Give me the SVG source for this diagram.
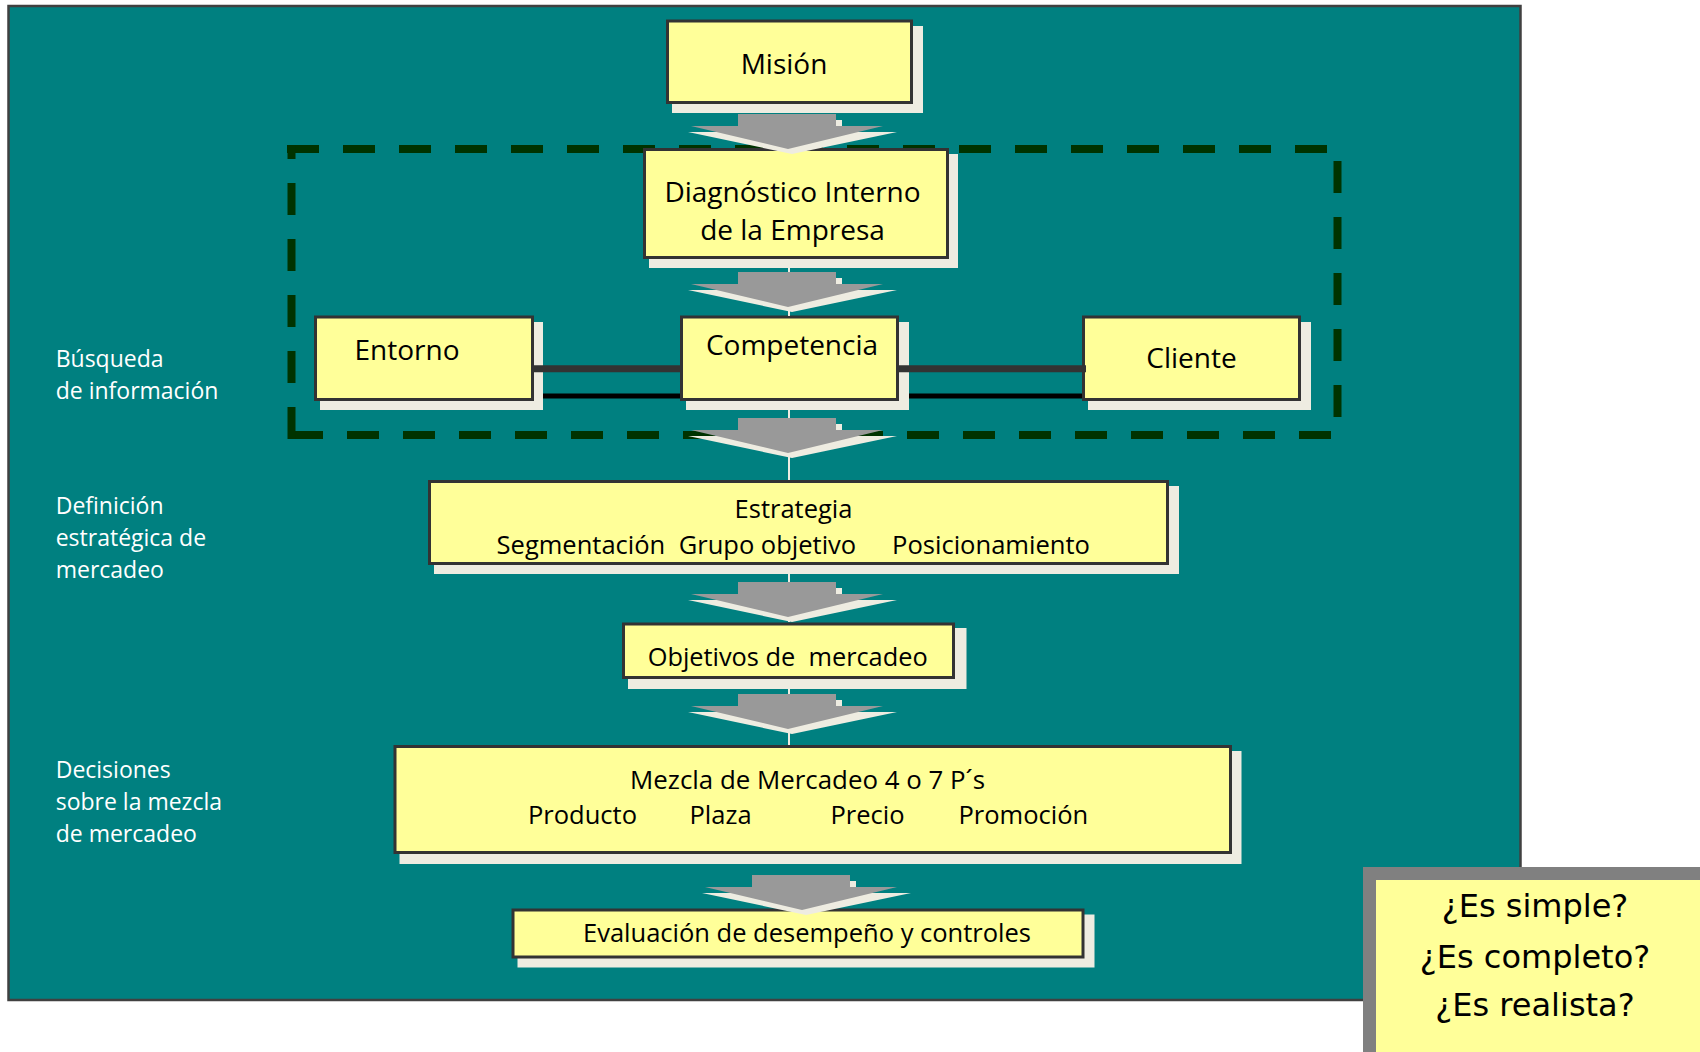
<svg xmlns="http://www.w3.org/2000/svg" width="1700" height="1052" viewBox="0 0 1700 1052">
<defs>
<style>
.shadow{fill:#EEECE1}
.box{fill:#FFFF99;stroke:#333333;stroke-width:3}
.t{font-family:'Open Sans','Noto Sans','DejaVu Sans',sans-serif;fill:#000000}
.n28{font-size:28px}
.n25{font-size:25.5px}
.lbl{font-family:'Open Sans','Noto Sans','DejaVu Sans',sans-serif;font-size:23px;fill:#FFFFFF}
.dash{stroke:#003300;stroke-width:8;stroke-dasharray:32 24;fill:none}
.arr-sh{fill:#EEECE1}
.arr{fill:#999999}
.q{font-family:'DejaVu Sans','Liberation Sans',sans-serif;font-size:32px;fill:#000000}
</style>
<g id="flowArrow">
<path class="arr-sh" d="M48,6 H54 V18 H109 L4,40 L-100,18 H48 Z"/>
<path class="arr" d="M-50,0 H48 V12 H95 L0,35 L-97,12 H-50 Z"/>
</g>
</defs>

<rect x="0" y="0" width="1700" height="1052" fill="#FFFFFF"/>
<rect id="panel" x="8.5" y="6" width="1512" height="994" fill="#008080" stroke="#404040" stroke-width="2.5"/>

<g id="labels">
<text class="lbl" x="55.7" y="366.7">Búsqueda</text>
<text class="lbl" x="55.7" y="398.5">de información</text>
<text class="lbl" x="55.7" y="514">Definición</text>
<text class="lbl" x="55.7" y="546">estratégica de</text>
<text class="lbl" x="55.7" y="578">mercadeo</text>
<text class="lbl" x="55.7" y="778">Decisiones</text>
<text class="lbl" x="55.7" y="810">sobre la mezcla</text>
<text class="lbl" x="55.7" y="842">de mercadeo</text>
</g>

<g id="frame">
<line class="dash" x1="287" y1="149" x2="1342" y2="149"/>
<line class="dash" x1="1337.5" y1="148" x2="1337.5" y2="435" stroke-dashoffset="43"/>
<line class="dash" x1="291" y1="435" x2="1342" y2="435"/>
<line class="dash" x1="291.5" y1="439" x2="291.5" y2="145"/>
</g>

<g id="mision">
<rect class="shadow" x="672" y="26" width="251" height="87"/>
<rect class="box" x="667.5" y="21" width="244" height="81.5"/>
<text class="t n28" x="784" y="74" text-anchor="middle">Misión</text>
</g>

<g id="diagnostico">
<rect class="shadow" x="649" y="154" width="309" height="114"/>
<rect class="box" x="644.5" y="149.5" width="303" height="108"/>
<text class="t n28" x="792.5" y="201.5" text-anchor="middle">Diagnóstico Interno</text>
<text class="t n28" x="792.5" y="240" text-anchor="middle">de la Empresa</text>
</g>

<g id="entorno">
<rect class="shadow" x="320" y="322" width="223" height="88"/>
<rect class="box" x="315.5" y="317" width="217" height="82.5"/>
<text class="t n28" x="354.5" y="360">Entorno</text>
</g>

<g id="competencia">
<rect class="shadow" x="686" y="322" width="223" height="88"/>
<rect class="box" x="681.5" y="317" width="216" height="82.5"/>
<text class="t n28" x="792" y="355" text-anchor="middle">Competencia</text>
</g>

<g id="cliente">
<rect class="shadow" x="1088" y="322" width="223" height="88"/>
<rect class="box" x="1083.5" y="317" width="216" height="82.5"/>
<text class="t n28" x="1191.5" y="368" text-anchor="middle">Cliente</text>
</g>

<g id="estrategia">
<rect class="shadow" x="434" y="486" width="745" height="88"/>
<rect class="box" x="429.5" y="481.5" width="738" height="82"/>
<text class="t n25" x="793.5" y="518" text-anchor="middle">Estrategia</text>
<text class="t n25" x="496.6" y="554">Segmentación</text>
<text class="t n25" x="678.7" y="554">Grupo objetivo</text>
<text class="t n25" x="892" y="554" textLength="198" lengthAdjust="spacingAndGlyphs">Posicionamiento</text>
</g>

<g id="objetivos">
<rect class="shadow" x="628" y="628" width="338.5" height="61"/>
<rect class="box" x="623.5" y="624" width="330" height="53.5"/>
<text class="t n25" x="647.7" y="666" xml:space="preserve" textLength="280" lengthAdjust="spacingAndGlyphs">Objetivos de  mercadeo</text>
</g>

<g id="mezcla">
<rect class="shadow" x="399.5" y="751" width="842" height="113"/>
<rect class="box" x="395" y="746.5" width="835.5" height="106"/>
<text class="t n25" x="630" y="789" textLength="355" lengthAdjust="spacingAndGlyphs">Mezcla de Mercadeo 4 o 7 P´s</text>
<text class="t n25" x="528" y="824">Producto</text>
<text class="t n25" x="689.5" y="824">Plaza</text>
<text class="t n25" x="830.5" y="824">Precio</text>
<text class="t n25" x="958.5" y="824">Promoción</text>
</g>

<g id="evaluacion">
<rect class="shadow" x="517.5" y="914.5" width="577" height="53"/>
<rect class="box" x="513" y="910" width="570" height="47"/>
<text class="t n25" x="583" y="942" textLength="448" lengthAdjust="spacingAndGlyphs">Evaluación de desempeño y controles</text>
</g>

<g id="connectors">
<path d="M789,268 V273 M789,305 V316 M789,410 V419 M789,450 V480 M789,573 V583 M789,615 V622 M789,689 V695 M789,727 V745" stroke="#EEECE1" stroke-width="2" fill="none"/>
<path d="M533,368.7 H680 M899,368.7 H1086" stroke="#333333" stroke-width="7" fill="none"/>
<path d="M543,396 H680 M909,396 H1082" stroke="#000000" stroke-width="5" fill="none"/>
<use href="#flowArrow" transform="translate(788,114)"/>
<use href="#flowArrow" transform="translate(788,272)"/>
<use href="#flowArrow" transform="translate(788,418)"/>
<use href="#flowArrow" transform="translate(788,582)"/>
<use href="#flowArrow" transform="translate(788,694)"/>
<use href="#flowArrow" transform="translate(802,875)"/>
</g>

<g id="preguntas">
<rect x="1369.5" y="873.5" width="400" height="300" fill="#FFFF99" stroke="#808080" stroke-width="13"/>
<text class="q" x="1535" y="917" text-anchor="middle">¿Es simple?</text>
<text class="q" x="1535" y="968" text-anchor="middle">¿Es completo?</text>
<text class="q" x="1535" y="1016" text-anchor="middle">¿Es realista?</text>
</g>
</svg>
